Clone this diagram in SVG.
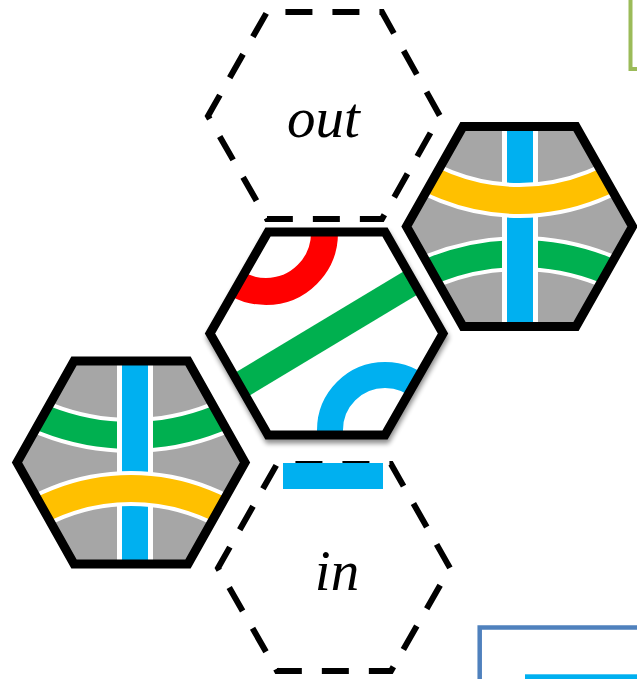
<svg xmlns="http://www.w3.org/2000/svg" width="637" height="679" viewBox="0 0 637 679">
<style>
.hexline{fill:none;stroke:#000;stroke-width:9;stroke-linejoin:miter}
.dash{fill:none;stroke:#000;stroke-width:6;stroke-dasharray:27 20;stroke-dashoffset:3}
.gray{fill:#A6A6A6}
.wb{fill:none;stroke:#fff;stroke-width:35}
.wv{stroke:#fff;stroke-width:36}
.blue{stroke:#00B0F0;stroke-width:26;fill:none}
.yel{fill:none;stroke:#FFC000;stroke-width:27}
.grn{fill:none;stroke:#00B050;stroke-width:27}
.lbl{font-family:"Liberation Serif","Times New Roman",serif;font-style:italic;font-size:57px;fill:#000;text-anchor:middle}
</style>
<defs>
<clipPath id="cR"><path d="M406.5 226.5 L463 126.5 L576 126.5 L632.5 226.5 L576 326.5 L463 326.5 Z"/></clipPath>
<clipPath id="cL"><path d="M17 462.5 L74 361 L188 361 L245 462.5 L188 564 L74 564 Z"/></clipPath>
<clipPath id="cC"><path d="M210 333.5 L268 232 L385 232 L443 333.5 L385 435 L268 435 Z"/></clipPath>
<filter id="sh" x="-10%" y="-10%" width="120%" height="125%">
<feGaussianBlur in="SourceAlpha" stdDeviation="2.5"/>
<feOffset dx="1" dy="4" result="b"/>
<feComponentTransfer><feFuncA type="linear" slope="0.45"/></feComponentTransfer>
<feMerge><feMergeNode/><feMergeNode in="SourceGraphic"/></feMerge>
</filter>
</defs>
<rect width="637" height="679" fill="#fff"/>

<g id="green-box"><rect x="630.5" y="-20" width="30" height="89" fill="none" stroke="#9BBB59" stroke-width="4"/></g>
<g id="blue-box"><rect x="479.7" y="627.5" width="200" height="80" fill="none" stroke="#4F81BD" stroke-width="4.5"/><rect x="525" y="674.3" width="120" height="10" fill="#00B0F0"/></g>

<g id="hex-out">
<path class="dash" d="M208 116 L267 12 L382 12 L440 116 L382 219 L267 219 Z"/>
<text class="lbl" x="323.5" y="137">out</text>
</g>

<g id="hex-in">
<path class="dash" d="M218 568 L277 464 L391 464 L450 568 L391 671 L277 671 Z"/>
<text class="lbl" x="337" y="590">in</text>
<rect x="283" y="463" width="100" height="26" fill="#00B0F0"/>
</g>

<g id="hex-right">
<g clip-path="url(#cR)">
<path class="gray" d="M406.5 226.5 L463 126.5 L576 126.5 L632.5 226.5 L576 326.5 L463 326.5 Z"/>
<circle class="wb" cx="519.5" cy="484.5" r="231"/>
<circle class="grn" cx="519.5" cy="484.5" r="231"/>
<line class="wv" x1="520" y1="110" x2="520" y2="340"/>
<line class="blue" x1="520" y1="110" x2="520" y2="340"/>
<circle class="wb" cx="519.5" cy="1.5" r="199"/>
<circle class="yel" cx="519.5" cy="1.5" r="199"/>
</g>
<path class="hexline" d="M406.5 226.5 L463 126.5 L576 126.5 L632.5 226.5 L576 326.5 L463 326.5 Z"/>
</g>

<g id="hex-left">
<g clip-path="url(#cL)">
<path class="gray" d="M17 462.5 L74 361 L188 361 L245 462.5 L188 564 L74 564 Z"/>
<circle class="wb" cx="131" cy="204.5" r="231"/>
<circle class="grn" cx="131" cy="204.5" r="231"/>
<line class="wv" x1="135" y1="350" x2="135" y2="575"/>
<line class="blue" x1="135" y1="350" x2="135" y2="575"/>
<circle class="wb" cx="131" cy="687.5" r="199"/>
<circle class="yel" cx="131" cy="687.5" r="199"/>
</g>
<path class="hexline" d="M17 462.5 L74 361 L188 361 L245 462.5 L188 564 L74 564 Z"/>
</g>

<g id="hex-center">
<g filter="url(#sh)">
<path d="M210 333.5 L268 232 L385 232 L443 333.5 L385 435 L268 435 Z" fill="#fff"/>
<g clip-path="url(#cC)">
<circle cx="266" cy="233" r="58.5" fill="none" stroke="#FF0000" stroke-width="27"/>
<circle cx="385" cy="430" r="55" fill="none" stroke="#00B0F0" stroke-width="26"/>
<line x1="198" y1="410.8" x2="455" y2="256.3" stroke="#00B050" stroke-width="27"/>
</g>
<path class="hexline" d="M210 333.5 L268 232 L385 232 L443 333.5 L385 435 L268 435 Z"/>
</g>
</g>
</svg>
